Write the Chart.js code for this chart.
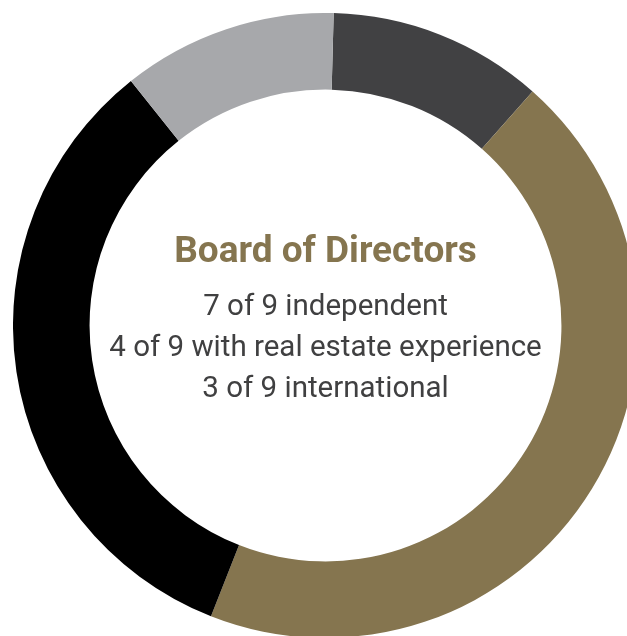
<!DOCTYPE html>
<html>
<head>
<meta charset="utf-8">
<script src="https://cdn.jsdelivr.net/npm/chart.js@4"></script>
<style>
  html, body { margin: 0; padding: 0; background: #fff; overflow: hidden; width: 627px; height: 636px; }
  #wrap { position: absolute; left: 13px; top: 13px; width: 625px; height: 625px; }
</style>
</head>
<body>
<div id="wrap"><canvas id="board" width="625" height="625"></canvas></div>
<script>
// Board composition, in ninths, clockwise from the top
const segments = ['Segment A', 'Segment B', 'Segment C', 'Segment D'];
const seats = [1, 4, 3, 1];
const segmentColors = ['#414143', '#85754f', '#000000', '#a7a8ab'];

const title = 'Board of Directors';
const facts = [
    '7 of 9 independent',
    '4 of 9 with real estate experience',
    '3 of 9 international'
];

// Writes the heading and facts in the hole of the ring
const centerText = {
    id: 'centerText',
    afterDraw(chart) {
        const ctx = chart.ctx;
        const arc = chart.getDatasetMeta(0).data[0];
        const cx = arc.x, cy = arc.y;
        ctx.save();
        ctx.textAlign = 'center';
        ctx.textBaseline = 'alphabetic';
        ctx.fillStyle = '#85754f';
        ctx.font = 'bold 37px Roboto';
        ctx.fillText(title, cx, cy - 64);
        ctx.fillStyle = '#404041';
        ctx.font = '29.5px Roboto';
        facts.forEach((line, i) => {
            ctx.fillText(line, cx, cy - 11 + i * 41);
        });
        ctx.restore();
    }
};

new Chart(document.getElementById('board').getContext('2d'), {
    type: 'doughnut',
    data: {
        labels: segments,
        datasets: [{
            data: seats,
            backgroundColor: segmentColors,
            borderWidth: 0
        }]
    },
    options: {
        responsive: false,
        animation: false,
        cutout: '75.5%',
        rotation: 1.5,
        layout: { padding: 0 },
        plugins: {
            legend: { display: false },
            tooltip: { enabled: false }
        }
    },
    plugins: [centerText]
});
</script>
</body>
</html>
